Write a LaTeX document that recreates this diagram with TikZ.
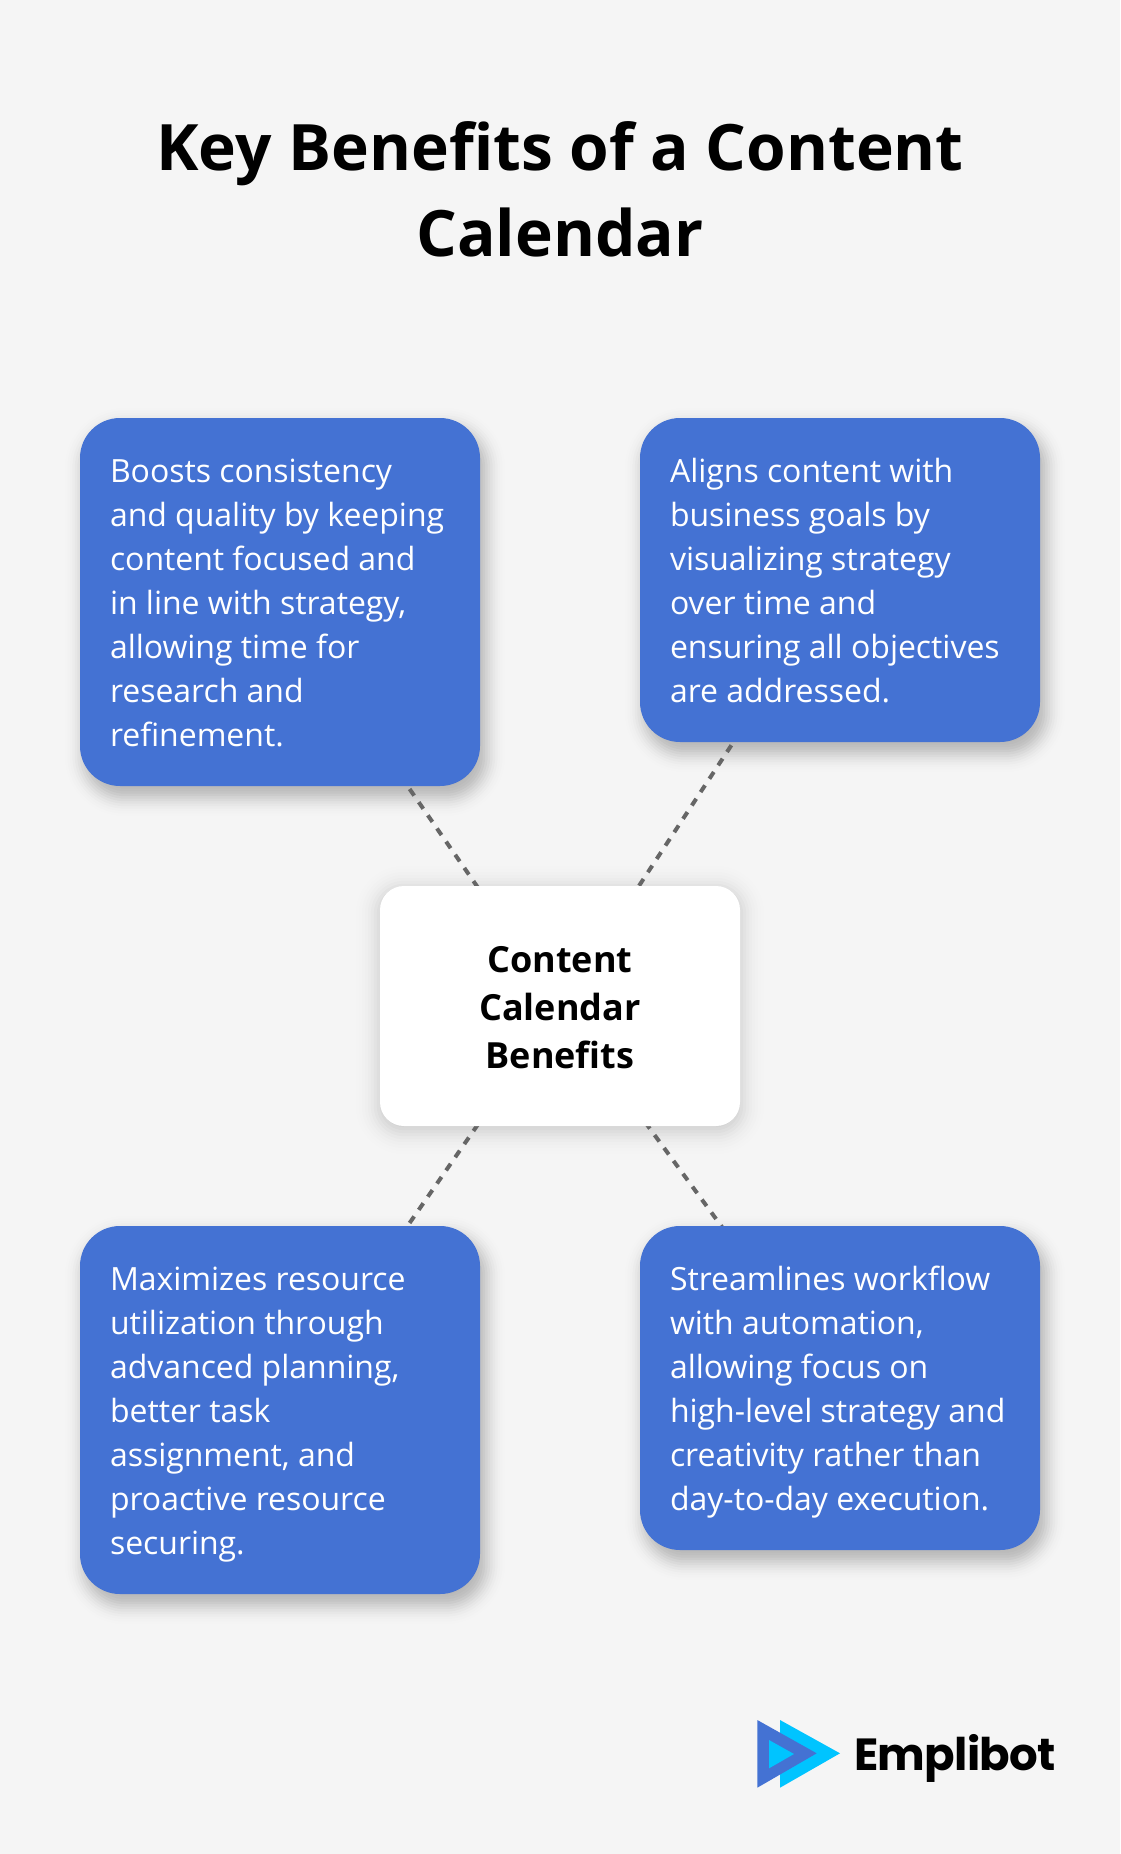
\documentclass[tikz,border=0pt]{standalone}
\usepackage{fontspec}
\setmainfont{Open Sans}
\newfontfamily\bodyfont[LetterSpace=-0.1]{Open Sans}
\newfontfamily\logofont[LetterSpace=-1.5]{Poppins}
\usetikzlibrary{calc,backgrounds}
\definecolor{pagebg}{HTML}{F5F5F5}
\definecolor{boxblue}{HTML}{4472D3}
\definecolor{logocyan}{HTML}{00C4FF}
\definecolor{linkgrey}{HTML}{666666}
\newcommand{\bodystrut}{\rule[-9.6pt]{0pt}{44pt}}
\newcommand{\midstrut}{\rule[-10pt]{0pt}{48pt}}
\newcommand{\softshadow}[6]{% node, dx, dy, radius, peak alpha, sigma
  \foreach \i in {-8,...,8}{
    \pgfmathsetmacro{\ee}{\i*#6/4}
    \pgfmathsetmacro{\rr}{max(#4+\ee,1)}
    \pgfmathsetmacro{\aa}{#5*exp(-\i*\i/32)}
    \fill[black,opacity=\aa,rounded corners=\rr pt]
      ($(#1.north west)+(#2-\ee,#3-\ee)$) rectangle ($(#1.south east)+(#2+\ee,#3+\ee)$);
  }
}
\tikzset{
  benefit/.style={fill=boxblue,text=white,rounded corners=40pt,minimum width=400pt,
    inner sep=0pt,text width=340pt,align=flush left,font=\bodyfont\fontsize{32}{44}\selectfont},
  hub/.style={fill=white,text=black,rounded corners=24pt,minimum width=360pt,minimum height=240pt,
    inner sep=0pt,align=center,font=\fontsize{36}{48}\selectfont\bfseries},
  link/.style={draw=linkgrey,line width=4pt,dash pattern=on 8pt off 8pt},
  headline/.style={text=black,align=center,inner sep=0pt,font=\fontsize{64}{86}\selectfont\bfseries}
}
\begin{document}
\begin{tikzpicture}[x=1pt,y=-1pt]
\useasboundingbox (0,0) rectangle (1120,1854);

\node[headline] (title) at (560,190) {\rule[-20pt]{0pt}{86pt}Key Benefits of a Content\\Calendar\rule[-20pt]{0pt}{86pt}};

\node[benefit,minimum height=368pt] (tl) at (280,602) {\bodystrut Boosts consistency\\and quality by keeping\\content focused and\\in line with strategy,\\allowing time for\\research and\\refinement.\bodystrut};
\node[benefit,minimum height=324pt] (tr) at (840,580) {\bodystrut Aligns content with\\business goals by\\visualizing strategy\\over time and\\ensuring all objectives\\are addressed.\bodystrut};
\node[benefit,minimum height=368pt] (bl) at (280,1410) {\bodystrut Maximizes resource\\utilization through\\advanced planning,\\better task\\assignment, and\\proactive resource\\securing.\bodystrut};
\node[benefit,minimum height=324pt] (br) at (840,1388) {\bodystrut Streamlines workflow\\with automation,\\allowing focus on\\high-level strategy and\\creativity rather than\\day-to-day execution.\bodystrut};
\node[hub] (hub) at (560,1006) {\midstrut Content\\Calendar\\Benefits\midstrut};

\begin{pgfonlayer}{background}
  \fill[pagebg] (0,0) rectangle (1120,1854);
  \softshadow{tl}{5}{10}{40}{0.03}{10}
  \softshadow{tr}{5}{10}{40}{0.03}{10}
  \softshadow{bl}{5}{10}{40}{0.03}{10}
  \softshadow{br}{5}{10}{40}{0.03}{10}
  \softshadow{hub}{0}{4}{24}{0.02}{12}
  \draw[link] (hub.center) -- (tl.center);
  \draw[link] (hub.center) -- (tr.center);
  \draw[link] (hub.center) -- (bl.center);
  \draw[link] (hub.center) -- (br.center);
\end{pgfonlayer}

\fill[logocyan] (780,1720) -- (780,1787.7) -- (840,1753.3) -- cycle;
\fill[boxblue] (757.3,1720) -- (757.3,1787.7) -- (816.7,1753.3) -- cycle;
\fill[logocyan] (769,1740) -- (769,1768.3) -- (794,1754) -- cycle;
\node[anchor=base west,inner sep=0pt,text=black,font=\logofont\fontsize{45}{45}\selectfont\bfseries] (logotext) at (854,1770) {Emplibot};
\end{tikzpicture}
\end{document}
